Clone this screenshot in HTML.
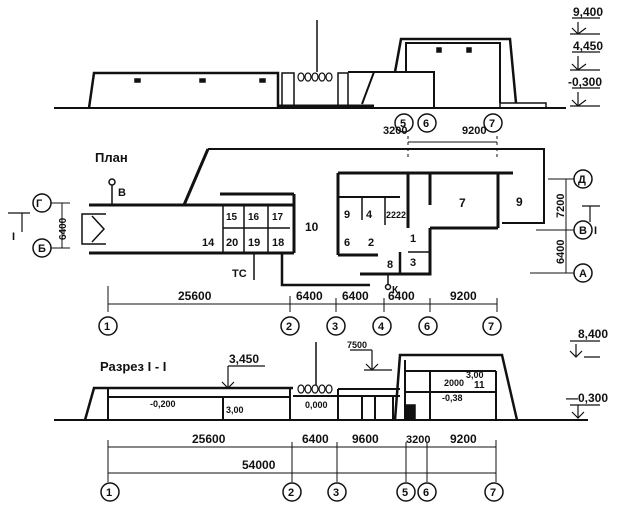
<!DOCTYPE html>
<html><head><meta charset="utf-8"><style>
html,body{margin:0;padding:0;background:#fff;}
svg{display:block;}
text{font-family:"Liberation Sans","Noto Sans CJK SC",sans-serif;fill:#111;font-weight:bold;}
</style></head><body>
<svg width="624" height="524" viewBox="0 0 624 524" xmlns="http://www.w3.org/2000/svg">
<g stroke="#111" fill="none" stroke-width="1.5">
<line x1="54" y1="108" x2="566" y2="108" stroke-width="2"/>
<polyline points="89,108 94,73 278,73 278,108" stroke-width="2.5"/>
<rect x="135" y="79" width="5" height="3" fill="#111"/><rect x="200" y="79" width="5" height="3" fill="#111"/><rect x="260" y="79" width="5" height="3" fill="#111"/>
<rect x="282" y="73" width="12" height="35"/>
<g stroke-width="1.2"><ellipse cx="301" cy="77" rx="3" ry="4"/><ellipse cx="308" cy="77" rx="3" ry="4"/><ellipse cx="315" cy="77" rx="3" ry="4"/><ellipse cx="322" cy="77" rx="3" ry="4"/><ellipse cx="329" cy="77" rx="3" ry="4"/></g>
<line x1="317" y1="20" x2="317" y2="72"/>
<rect x="338" y="73" width="10" height="35"/>
<polyline points="348,72 434,72 434,108" stroke-width="2"/>
<line x1="374" y1="72" x2="362" y2="104" stroke-width="2"/>
<line x1="278" y1="106" x2="374" y2="106" stroke-width="3"/>
<polyline points="395,72 401,39 510,39 516,103" stroke-width="2.5"/>
<polyline points="406,72 406,43 500,43 500,103" stroke-width="2"/>
<rect x="437" y="48" width="4" height="4" fill="#111"/><rect x="467" y="48" width="4" height="4" fill="#111"/>
<rect x="500" y="103" width="46" height="5"/>
<g stroke-width="1.2">
<line x1="572" y1="18" x2="600" y2="18"/><path d="M578 22 V34 M572 28 L578 34 L586 28 M570 34 H600"/>
<line x1="572" y1="52" x2="600" y2="52"/><path d="M578 56 V70 M572 64 L578 70 L586 64 M570 70 H600"/>
<line x1="572" y1="88" x2="600" y2="88"/><path d="M578 92 V106 M572 100 L578 106 L586 100 M570 106 H600"/>
</g>
<polyline points="208,149 544,149 544,223 502,223" stroke-width="2"/>
<line x1="208" y1="149" x2="184" y2="205" stroke-width="3"/>
<line x1="89" y1="205" x2="294" y2="205" stroke-width="3"/>
<line x1="89" y1="253" x2="294" y2="253" stroke-width="3"/>
<line x1="220" y1="194" x2="294" y2="194" stroke-width="3"/>
<line x1="294" y1="194" x2="294" y2="253" stroke-width="3"/>
<polyline points="106,214 82,214 82,244 106,244" stroke-width="1.5"/>
<polyline points="92,216 104,229 92,242" stroke-width="1.5"/>
<line x1="223" y1="205" x2="223" y2="253"/><line x1="223" y1="228" x2="290" y2="228"/>
<line x1="244" y1="205" x2="244" y2="253"/><line x1="268" y1="205" x2="268" y2="253"/>
<polyline points="282,253 282,285 370,285" stroke-width="2.5"/>
<line x1="408" y1="142" x2="497" y2="142" stroke-width="1"/>
<line x1="408" y1="136" x2="408" y2="160" stroke-dasharray="3,3" stroke-width="1"/>
<line x1="497" y1="136" x2="497" y2="160" stroke-dasharray="3,3" stroke-width="1"/>
<line x1="338" y1="173" x2="513" y2="173" stroke-width="3"/>
<line x1="338" y1="173" x2="338" y2="255" stroke-width="3"/>
<line x1="338" y1="255" x2="378" y2="255" stroke-width="3"/>
<line x1="338" y1="197" x2="400" y2="197" stroke-width="2"/>
<line x1="408" y1="173" x2="408" y2="228" stroke-width="3"/>
<line x1="430" y1="173" x2="430" y2="205" stroke-width="3"/>
<line x1="498" y1="173" x2="498" y2="228" stroke-width="3"/>
<polyline points="430,228 498,228" stroke-width="3"/>
<polyline points="430,228 430,274 360,274" stroke-width="3"/>
<line x1="400" y1="252" x2="400" y2="274" stroke-width="2.5"/>
<line x1="362" y1="197" x2="362" y2="220"/><line x1="385" y1="197" x2="385" y2="225"/>
<line x1="408" y1="252" x2="430" y2="252"/>
<line x1="112" y1="185" x2="112" y2="205"/><circle cx="112" cy="182" r="3"/>
<line x1="254" y1="253" x2="254" y2="280"/>
<line x1="388" y1="274" x2="388" y2="285"/><circle cx="388" cy="287" r="2.5"/>
<circle cx="583" cy="179" r="9"/><circle cx="583" cy="230" r="9"/><circle cx="583" cy="273" r="9"/>
<line x1="548" y1="179" x2="574" y2="179" stroke-width="1"/><line x1="536" y1="230" x2="574" y2="230" stroke-width="1"/><line x1="530" y1="273" x2="574" y2="273" stroke-width="1"/>
<line x1="566" y1="179" x2="566" y2="273" stroke-width="1"/>
<path d="M582 206 H600 M590 206 V222" stroke-width="1.2"/>
<circle cx="42" cy="203" r="9"/><circle cx="42" cy="248" r="9"/>
<line x1="51" y1="203" x2="70" y2="203" stroke-width="1"/><line x1="51" y1="248" x2="70" y2="248" stroke-width="1"/>
<line x1="62" y1="203" x2="62" y2="248" stroke-width="1"/>
<path d="M8 213 H30 M22 213 V232" stroke-width="1.2"/>
<line x1="108" y1="304" x2="497" y2="304" stroke-width="1"/>
<path d="M108 286 V312 M290 296 V312 M336 298 V312 M384 298 V312 M430 298 V312 M497 298 V312" stroke-width="1"/>
<circle cx="108" cy="326" r="9"/><circle cx="290" cy="326" r="9"/><circle cx="336" cy="326" r="9"/><circle cx="382" cy="326" r="9"/><circle cx="428" cy="326" r="9"/><circle cx="492" cy="326" r="9"/>
<circle cx="404" cy="123" r="9"/><circle cx="427" cy="123" r="9"/><circle cx="493" cy="123" r="9"/>
<line x1="54" y1="420" x2="588" y2="420" stroke-width="2"/>
<polyline points="85,420 94,388 293,388" stroke-width="2.5"/>
<line x1="108" y1="397" x2="290" y2="397" stroke-width="2"/>
<path d="M108 388 V420 M223 397 V420 M290 388 V420" stroke-width="2"/>
<g stroke-width="1.2"><ellipse cx="301" cy="389" rx="3" ry="4"/><ellipse cx="308" cy="389" rx="3" ry="4"/><ellipse cx="315" cy="389" rx="3" ry="4"/><ellipse cx="322" cy="389" rx="3" ry="4"/><ellipse cx="329" cy="389" rx="3" ry="4"/></g>
<line x1="316" y1="342" x2="316" y2="385"/>
<line x1="293" y1="396" x2="400" y2="396" stroke-width="2"/>
<line x1="338" y1="389" x2="400" y2="389" stroke-width="2"/>
<path d="M338 389 V420 M362 396 V420 M375 396 V420 M393 396 V420" stroke-width="2"/>
<polyline points="395,420 400,355 502,355 517,420" stroke-width="2.5"/>
<line x1="405" y1="371" x2="496" y2="371" stroke-width="2"/>
<line x1="405" y1="392" x2="496" y2="392" stroke-width="2"/>
<path d="M405 360 V420 M430 371 V420 M496 371 V420" stroke-width="2"/>
<rect x="405" y="405" width="10" height="14" fill="#111"/>
<path d="M228 366 H265 M228 366 V388 M222 382 L228 388 L234 382" stroke-width="1.2"/>
<path d="M350 350 H372 M372 350 V370 M366 364 L372 370 L378 364 M364 370 H392" stroke-width="1.2"/>
<path d="M570 341 H600 M576 344 V357 M570 351 L576 357 L582 351 M584 357 H600" stroke-width="1.2"/>
<path d="M570 405 H600 M578 405 V418 M572 412 L578 418 L584 412" stroke-width="1.2"/>
<line x1="108" y1="447" x2="496" y2="447" stroke-width="1"/>
<line x1="108" y1="473" x2="496" y2="473" stroke-width="1"/>
<path d="M108 440 V482 M292 442 V482 M337 442 V482 M406 442 V482 M427 442 V482 M496 440 V482" stroke-width="1"/>
<circle cx="110" cy="492" r="9"/><circle cx="292" cy="492" r="9"/><circle cx="337" cy="492" r="9"/><circle cx="406" cy="492" r="9"/><circle cx="427" cy="492" r="9"/><circle cx="494" cy="492" r="9"/>
</g>
<g font-size="12">
<text x="573" y="16">9,400</text><text x="573" y="50">4,450</text><text x="568" y="86">-0,300</text>
<text x="95" y="162" font-size="13">План</text>
<text x="383" y="134" font-size="11">3200</text><text x="462" y="134" font-size="11">9200</text>
<text x="400" y="127" font-size="11">5</text><text x="423" y="127" font-size="11">6</text><text x="489" y="127" font-size="11">7</text>
<text x="118" y="196" font-size="11">В</text>
<text x="36" y="207" font-size="11">Г</text><text x="38" y="252" font-size="11">Б</text>
<text x="12" y="240" font-size="11">I</text><text x="594" y="234" font-size="11">I</text>
<text x="578" y="183" font-size="11">Д</text><text x="579" y="234" font-size="11">В</text><text x="579" y="277" font-size="11">А</text>
<text x="226" y="220" font-size="10">15</text><text x="248" y="220" font-size="10">16</text><text x="272" y="220" font-size="10">17</text>
<text x="202" y="246" font-size="11">14</text><text x="226" y="246" font-size="11">20</text><text x="248" y="246" font-size="11">19</text><text x="272" y="246" font-size="11">18</text>
<text x="305" y="231">10</text><text x="232" y="277" font-size="11">ТС</text>
<text x="344" y="218" font-size="11">9</text><text x="366" y="218" font-size="11">4</text><text x="386" y="218" font-size="9">22</text><text x="396" y="218" font-size="9">22</text>
<text x="344" y="246" font-size="11">6</text><text x="368" y="246" font-size="11">2</text>
<text x="410" y="242" font-size="11">1</text><text x="410" y="266" font-size="11">3</text><text x="387" y="268" font-size="11">8</text>
<text x="459" y="207">7</text><text x="516" y="206">9</text><text x="392" y="293" font-size="10">К</text>
<text transform="translate(564,218) rotate(-90)" font-size="11">7200</text>
<text transform="translate(564,264) rotate(-90)" font-size="11">6400</text>
<text transform="translate(66,240) rotate(-90)" font-size="10">6400</text>
<text x="178" y="300">25600</text><text x="296" y="300">6400</text><text x="342" y="300">6400</text><text x="388" y="300">6400</text><text x="450" y="300">9200</text>
<text x="104" y="330" font-size="11">1</text><text x="286" y="330" font-size="11">2</text><text x="332" y="330" font-size="11">3</text><text x="378" y="330" font-size="11">4</text><text x="424" y="330" font-size="11">6</text><text x="488" y="330" font-size="11">7</text>
<text x="100" y="371" font-size="13">Разрез  I - I</text>
<text x="229" y="363">3,450</text><text x="347" y="348" font-size="9">7500</text>
<text x="578" y="338">8,400</text><text x="566" y="402">—0,300</text>
<text x="150" y="407" font-size="9">-0,200</text><text x="226" y="413" font-size="9">3,00</text><text x="305" y="408" font-size="9">0,000</text>
<text x="444" y="386" font-size="9">2000</text><text x="466" y="378" font-size="9">3,00</text><text x="474" y="388" font-size="10">11</text><text x="442" y="401" font-size="9">-0,38</text>
<text x="192" y="443">25600</text><text x="302" y="443">6400</text><text x="352" y="443">9600</text><text x="406" y="443" font-size="11">3200</text><text x="450" y="443">9200</text>
<text x="242" y="469">54000</text>
<text x="106" y="496" font-size="11">1</text><text x="288" y="496" font-size="11">2</text><text x="333" y="496" font-size="11">3</text><text x="402" y="496" font-size="11">5</text><text x="423" y="496" font-size="11">6</text><text x="490" y="496" font-size="11">7</text>
</g>
</svg>
</body></html>
